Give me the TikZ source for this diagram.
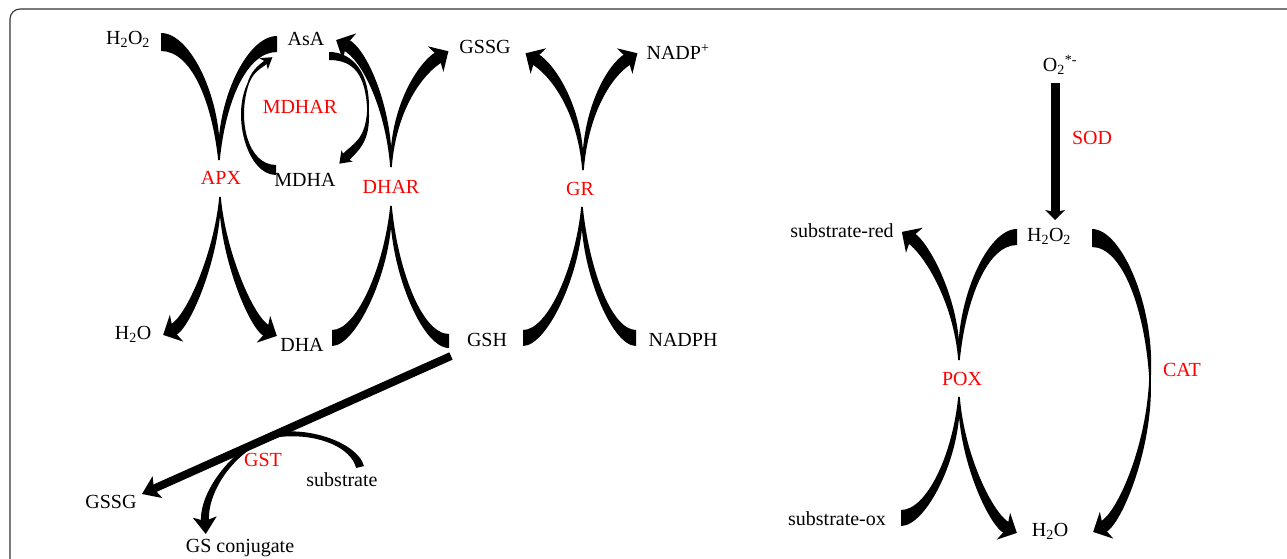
\documentclass[tikz,border=0pt]{standalone}
\usepackage{fontspec}
\setmainfont{Liberation Serif}
\usetikzlibrary{arrows.meta, calc}
\tikzset{
  >=Stealth,
  met/.style        = {font=\fontsize{20}{24}\selectfont, inner sep=1pt},
  enz/.style        = {met, text=red},
  outerframe/.style = {draw=black!80, line width=1.1pt, rounded corners=10pt},
  fatarrow/.style   = {line width=8pt,
                       -{Stealth[length=17pt, width=24pt, inset=4pt, line width=0pt]}},
  sodarrow/.style   = {line width=9pt,
                       -{Stealth[length=10pt, width=20pt, inset=2pt, line width=0pt]}},
}
% tapered band: thin point, out-control (rel), in-control (rel), end, thin hw, thick hw
\newcommand{\swoosh}[6]{%
  \coordinate (sw-p) at #1;
  \coordinate (sw-e) at #4;
  \coordinate (sw-c1) at ($(sw-p)+#2$);
  \coordinate (sw-c2) at ($(sw-e)+#3$);
  \coordinate (sw-pl) at ($(sw-p)!#5!90:(sw-c1)$);
  \coordinate (sw-pr) at ($(sw-p)!#5!-90:(sw-c1)$);
  \coordinate (sw-ml) at ($(sw-p)!0.6*#6!90:(sw-c1)$);
  \coordinate (sw-mr) at ($(sw-p)!0.6*#6!-90:(sw-c1)$);
  \coordinate (sw-el) at ($(sw-e)!#6!-90:(sw-c2)$);
  \coordinate (sw-er) at ($(sw-e)!#6!90:(sw-c2)$);
  \fill (sw-pl) .. controls ($(sw-c1)+(sw-ml)-(sw-p)$) and ($(sw-c2)+(sw-el)-(sw-e)$) .. (sw-el)
     -- (sw-er) .. controls ($(sw-c2)+(sw-er)-(sw-e)$) and ($(sw-c1)+(sw-mr)-(sw-p)$) .. (sw-pr)
     -- cycle;
}
% head on the last swoosh: reach beyond notch, inset, half width
\newcommand{\swooshhead}[3]{%
  \coordinate (hd-t) at ($(sw-e)!-#1!(sw-c2)$);
  \coordinate (hd-b) at ($(sw-e)!#2!(sw-c2)$);
  \fill (hd-t) -- ($(hd-b)!#3!90:(sw-c2)$) -- (sw-e) -- ($(hd-b)!#3!-90:(sw-c2)$) -- cycle;
}

\begin{document}
\begin{tikzpicture}[x=1pt, y=-1pt]
  \useasboundingbox (0,0) rectangle (1287,559);
  \draw[outerframe] (10,9) rectangle (1310,620);

  % ---------- ascorbate--glutathione cycle: labels ------------------
  \node[met] (h2o2a)  at (128,39)  {H\textsubscript{2}O\textsubscript{2}};
  \node[met] (asa)    at (306,39)  {AsA};
  \node[met] (gssga)  at (485,47)  {GSSG};
  \node[met] (nadpp)  at (678,52)  {NADP\textsuperscript{+}};
  \node[enz] (mdhar)  at (300,107) {MDHAR};
  \node[enz] (apx)    at (221,178) {APX};
  \node[met] (mdha)   at (305,180) {MDHA};
  \node[enz] (dhar)   at (391,187) {DHAR};
  \node[enz] (gr)     at (580,189) {GR};
  \node[met] (h2oa)   at (133,334) {H\textsubscript{2}O};
  \node[met] (dha)    at (302,345) {DHA};
  \node[met] (gsh)    at (487,340) {GSH};
  \node[met] (nadph)  at (683,340) {NADPH};
  \node[met] (gssgb)  at (111,502) {GSSG};
  \node[enz] (gst)    at (263,460) {GST};
  \node[met] (substr) at (342,480) {substrate};
  \node[met] (gsconj) at (240,548) {GS conjugate};

  % ---------- enzyme points and metabolite ends ---------------------
  \coordinate (apx-t)    at (219,160);
  \coordinate (apx-b)    at (220,197);
  \coordinate (dhar-t)   at (391,167);
  \coordinate (dhar-b)   at (391,206);
  \coordinate (gr-t)     at (583,170);
  \coordinate (gr-b)     at (582,207);
  \coordinate (mdhar-l)  at (248,84);
  \coordinate (mdhar-r)  at (368,110);
  \coordinate (gst-p)    at (285,434);
  \coordinate (gsh-s)    at (451,356);
  \coordinate (gssgb-t)  at (142,494);

  % ---------- APX ---------------------------------------------------
  \swoosh{(apx-t)}{(-2,-60)}{(30,0)}{(161,42)}{0.8pt}{9pt}
  \swoosh{(apx-t)}{(2,-60)}{(-30,0)}{(277,44)}{0.8pt}{8pt}
  \swoosh{(apx-b)}{(-2,55)}{(16,-8)}{(173,330)}{0.8pt}{6pt}
  \swooshhead{11pt}{4pt}{15pt}
  \swoosh{(apx-b)}{(2,55)}{(-16,-8)}{(267,331)}{0.8pt}{6pt}
  \swooshhead{11pt}{4pt}{15pt}

  % ---------- MDHAR -------------------------------------------------
  \swoosh{(mdhar-l)}{(-14,35)}{(-28,0)}{(276,170)}{0.8pt}{5pt}
  \swoosh{(mdhar-l)}{(4,-12)}{(-8,6)}{(266,62)}{0.8pt}{2pt}
  \swooshhead{8pt}{3pt}{7pt}
  \swoosh{(mdhar-r)}{(0,-35)}{(25,0)}{(329,56)}{0.8pt}{4pt}
  \swoosh{(mdhar-r)}{(0,30)}{(12,-12)}{(345,158)}{0.8pt}{4.5pt}
  \swooshhead{8pt}{3pt}{8pt}

  % ---------- DHAR --------------------------------------------------
  \swoosh{(dhar-t)}{(-2,-60)}{(18,9)}{(346,45)}{0.8pt}{6pt}
  \swooshhead{11pt}{4pt}{15pt}
  \swoosh{(dhar-t)}{(2,-60)}{(-18,11)}{(439,57)}{0.8pt}{6pt}
  \swooshhead{11pt}{4pt}{15pt}
  \swoosh{(dhar-b)}{(-2,60)}{(25,0)}{(332,338)}{0.8pt}{8pt}
  \swoosh{(dhar-b)}{(2,60)}{(-28,0)}{(449,341)}{0.8pt}{7pt}

  % ---------- GR ----------------------------------------------------
  \swoosh{(gr-t)}{(-2,-60)}{(18,11)}{(535,59)}{0.8pt}{6pt}
  \swooshhead{11pt}{4pt}{15pt}
  \swoosh{(gr-t)}{(2,-60)}{(-18,11)}{(628,59)}{0.8pt}{6pt}
  \swooshhead{11pt}{4pt}{15pt}
  \swoosh{(gr-b)}{(-2,60)}{(25,0)}{(523,338)}{0.8pt}{8pt}
  \swoosh{(gr-b)}{(2,60)}{(-25,0)}{(636,338)}{0.8pt}{8pt}

  % ---------- GST ---------------------------------------------------
  \draw[fatarrow] (gsh-s) -- (gssgb-t);
  \swoosh{(gst-p)}{(35,-2)}{(-5,-20)}{(360,467)}{2.5pt}{4pt}
  \swoosh{(gst-p)}{(-40,2)}{(-2,-35)}{(205,521)}{2.5pt}{4pt}
  \swooshhead{13pt}{4pt}{12pt}

  % ---------- SOD / POX / CAT: labels -------------------------------
  \node[met] (o2)     at (1060,65)  {O\textsubscript{2}\textsuperscript{*-}};
  \node[enz] (sod)    at (1092,138) {SOD};
  \node[met] (h2o2b)  at (1049,236) {H\textsubscript{2}O\textsubscript{2}};
  \node[met] (subred) at (842,231)  {substrate-red};
  \node[enz] (pox)    at (962,379)  {POX};
  \node[enz] (cat)    at (1182,370) {CAT};
  \node[met] (subox)  at (837,519)  {substrate-ox};
  \node[met] (h2ob)   at (1050,531) {H\textsubscript{2}O};

  \coordinate (o2-s)    at (1055,83);
  \coordinate (h2o2b-n) at (1055,220);
  \coordinate (pox-t)   at (959,360);
  \coordinate (pox-b)   at (959,397);
  \coordinate (cat-p)   at (1150,378);

  \draw[sodarrow] (o2-s) -- (h2o2b-n);
  \swoosh{(pox-t)}{(2,-60)}{(-30,0)}{(1017,237)}{0.8pt}{8pt}
  \swoosh{(pox-t)}{(-2,-60)}{(15,10)}{(911,238)}{0.8pt}{6pt}
  \swooshhead{11pt}{4pt}{15pt}
  \swoosh{(pox-b)}{(-2,60)}{(25,0)}{(901,518)}{0.8pt}{8pt}
  \swoosh{(pox-b)}{(2,60)}{(-16,-8)}{(1007,528)}{0.8pt}{6pt}
  \swooshhead{11pt}{4pt}{15pt}
  \swoosh{(cat-p)}{(0,-70)}{(30,0)}{(1092,238)}{0.8pt}{9pt}
  \swoosh{(cat-p)}{(0,70)}{(16,-8)}{(1103,527)}{0.8pt}{6pt}
  \swooshhead{11pt}{4pt}{15pt}
\end{tikzpicture}
\end{document}
